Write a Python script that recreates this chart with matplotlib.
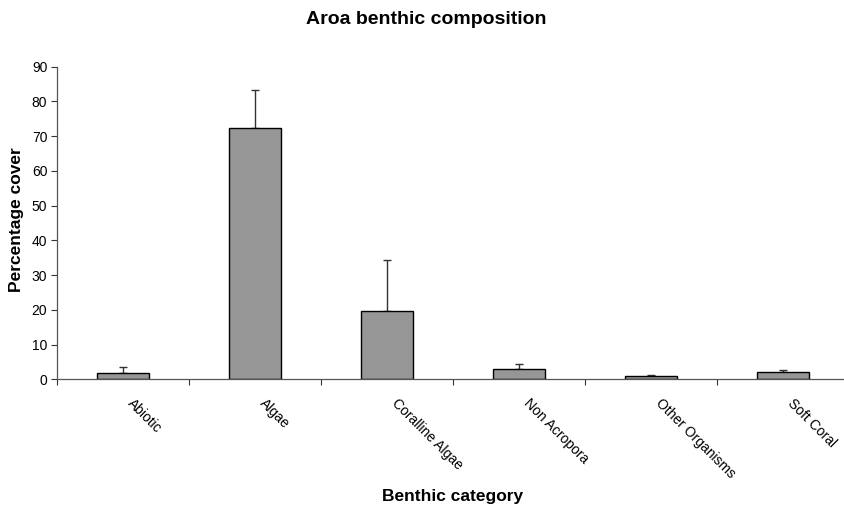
import numpy as np
import matplotlib
matplotlib.use("Agg")
import matplotlib.pyplot as plt
from matplotlib.transforms import ScaledTranslation

# data
categories = ["Abiotic", "Algae", "Coralline Algae", "Non Acropora",
              "Other Organisms", "Soft Coral"]
cover = [1.7, 72.4, 19.8, 2.9, 0.85, 2.0]
err_upper = [1.8, 11.0, 14.6, 1.5, 0.3, 0.6]

plt.rcParams['font.family'] = ['Liberation Sans', 'DejaVu Sans']

fig = plt.figure(figsize=(8.45, 5.08), dpi=100)
ax = fig.add_axes([57 / 845, 0.2533, 792 / 845, 0.6154])

x = np.arange(len(categories)) + 0.5
yerr = np.array([np.zeros(len(cover)), err_upper])
ax.bar(x, cover, width=0.4, color='#969696', edgecolor='black', linewidth=1.0,
       zorder=2)
ax.errorbar(x, cover, yerr=yerr, fmt='none', ecolor='#333333', elinewidth=1.0,
            capsize=3, capthick=1.0, zorder=1)

ax.set_xlim(0, 6)
ax.set_ylim(0, 90)
ax.set_yticks(range(0, 91, 10))
ax.tick_params(axis='y', labelsize=10, length=4, width=0.8, colors='#333333',
               labelcolor='black', direction='out', pad=3)

# tick marks at category boundaries, labels at centres
ax.set_xticks(np.arange(0, 7), minor=True)
ax.set_xticks(x)
ax.set_xticklabels(categories, rotation=-45, ha='left', va='top',
                   rotation_mode='anchor', fontsize=10)
ax.tick_params(axis='x', which='major', length=0, pad=12)
ax.tick_params(axis='x', which='minor', length=4, width=0.8, colors='#333333',
               direction='out')
shift = ScaledTranslation(0.12, 0, fig.dpi_scale_trans)
for lab in ax.get_xticklabels():
    lab.set_transform(lab.get_transform() + shift)

for s in ['top', 'right']:
    ax.spines[s].set_visible(False)
for s in ['left', 'bottom']:
    ax.spines[s].set_color('#555555')
    ax.spines[s].set_linewidth(0.9)

fig.text(426 / 845, 1 - 20 / 508, 'Aroa benthic composition', ha='center',
         va='center', fontsize=14, fontweight='bold')
fig.text(453 / 845, 1 - 497 / 508, 'Benthic category', ha='center',
         va='center', fontsize=12.5, fontweight='bold')
fig.text(17 / 845, 1 - 220 / 508, 'Percentage cover', ha='center',
         va='center', rotation=90, fontsize=12.5, fontweight='bold')

fig.savefig('out.png', dpi=100)
